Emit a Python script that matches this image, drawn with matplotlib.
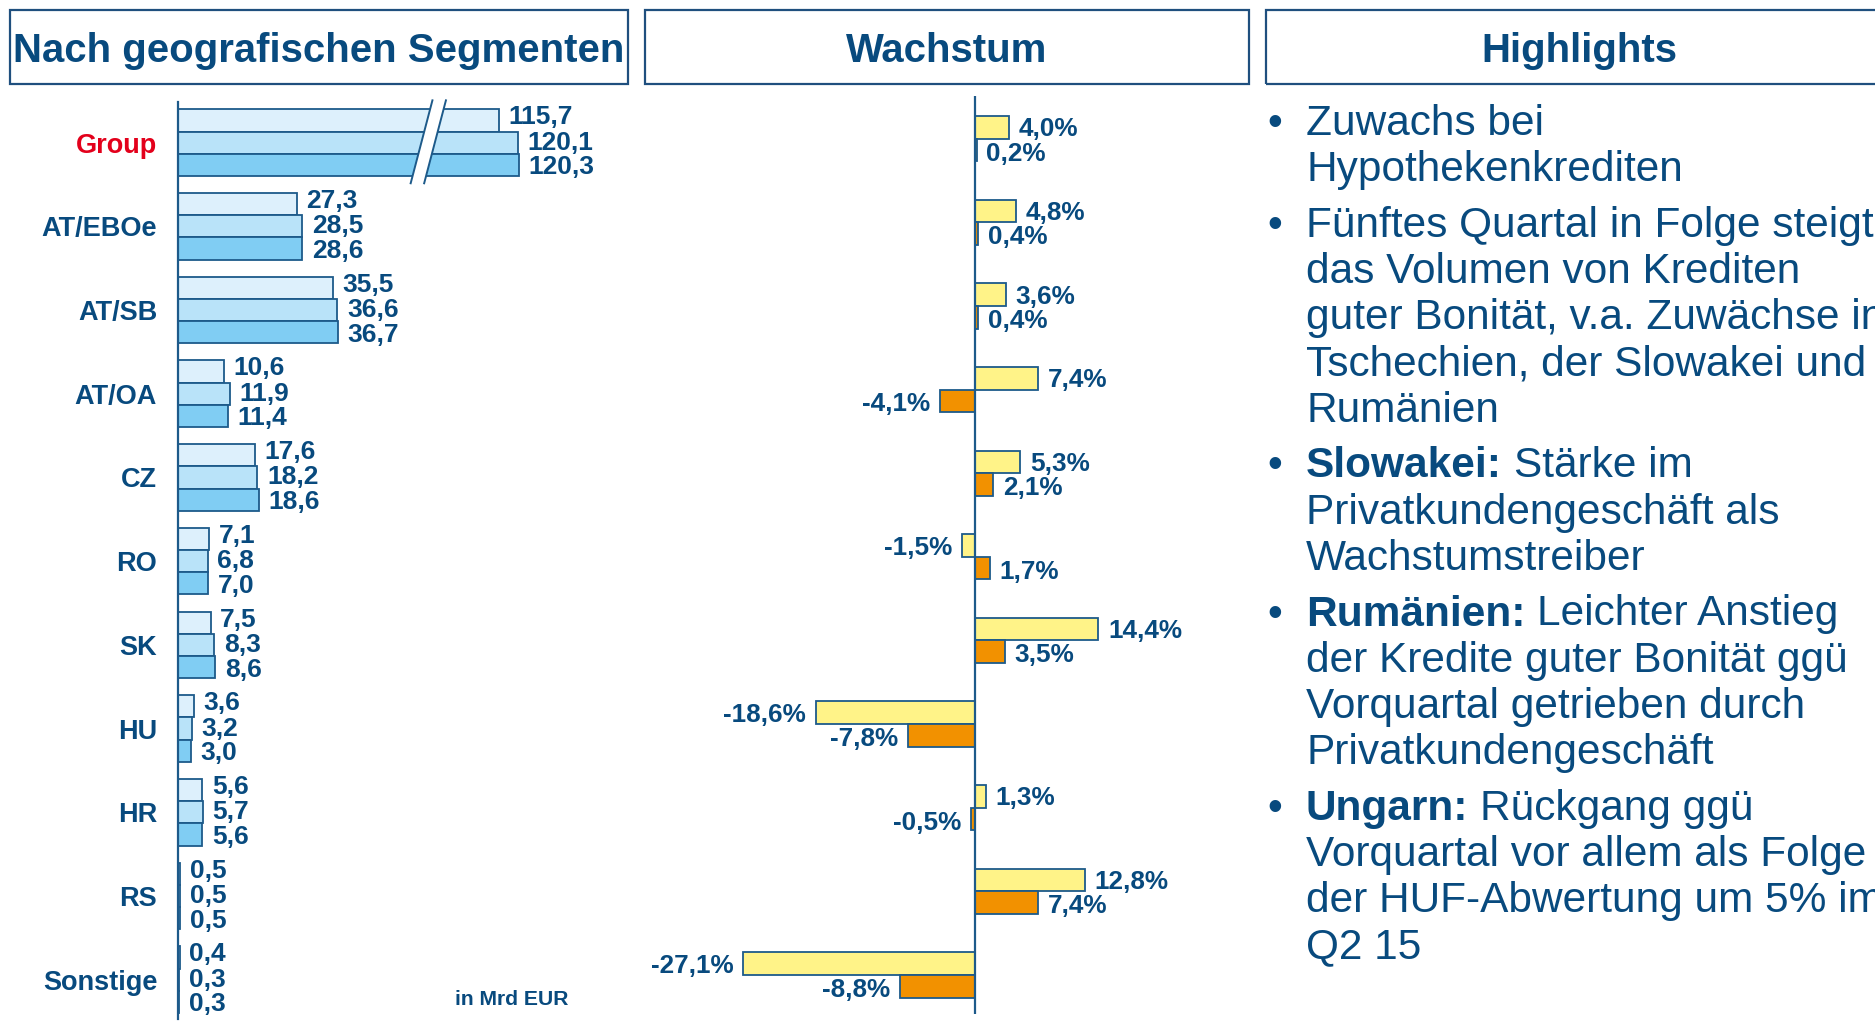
import matplotlib
matplotlib.use("Agg")
import matplotlib.pyplot as plt
from matplotlib.patches import Rectangle, Polygon
from matplotlib.lines import Line2D
from matplotlib.text import Annotation
import numpy as np

plt.rcParams['font.family'] = ['Liberation Sans', 'DejaVu Sans']

# ---------------- data ----------------
categories = ["Group", "AT/EBOe", "AT/SB", "AT/OA", "CZ", "RO", "SK", "HU", "HR", "RS", "Sonstige"]
vol_q2_14 = [115.7, 27.3, 35.5, 10.6, 17.6, 7.1, 7.5, 3.6, 5.6, 0.5, 0.4]
vol_q1_15 = [120.1, 28.5, 36.6, 11.9, 18.2, 6.8, 8.3, 3.2, 5.7, 0.5, 0.3]
vol_q2_15 = [120.3, 28.6, 36.7, 11.4, 18.6, 7.0, 8.6, 3.0, 5.6, 0.5, 0.3]
growth_yoy = [4.0, 4.8, 3.6, 7.4, 5.3, -1.5, 14.4, -18.6, 1.3, 12.8, -27.1]
growth_qoq = [0.2, 0.4, 0.4, -4.1, 2.1, 1.7, 3.5, -7.8, -0.5, 7.4, -8.8]

titles = ["Nach geografischen Segmenten", "Wachstum", "Highlights"]
unit_note = "in Mrd EUR"
highlights = [
    ("", ["Zuwachs bei", "Hypothekenkrediten"]),
    ("", ["Fünftes Quartal in Folge steigt", "das Volumen von Krediten",
          "guter Bonität, v.a. Zuwächse in", "Tschechien, der Slowakei und", "Rumänien"]),
    ("Slowakei:", ["Stärke im", "Privatkundengeschäft als", "Wachstumstreiber"]),
    ("Rumänien:", ["Leichter Anstieg", "der Kredite guter Bonität ggü",
                   "Vorquartal getrieben durch", "Privatkundengeschäft"]),
    ("Ungarn:", ["Rückgang ggü", "Vorquartal vor allem als Folge",
                 "der HUF-Abwertung um 5% im", "Q2 15"]),
]

# ---------------- style ----------------
NAVY = "#084A7E"
EDGE = "#1D5A8A"
BOX = "#1F4F7E"
RED = "#E3001B"
BLUE_COLS = ["#DDF0FC", "#B9E3F9", "#80CDF3"]
YELLOW = "#FFF388"
ORANGE = "#F29100"
BREAK = 42.0  # units cut out of the Group bars (broken axis)

W, H = 1875, 1032
fig = plt.figure(figsize=(W / 100, H / 100), dpi=100)


def fx(x):
    return x / W


def fy(y):
    return 1 - y / H


def fmt(v, pct=False):
    s = f"{v:.1f}".replace(".", ",")
    return s + "%" if pct else s


# ---------------- header boxes ----------------
boxes = [(10, 628), (645, 1249), (1266, 1892)]
for (x0, x1), title in zip(boxes, titles):
    fig.add_artist(Rectangle((fx(x0), fy(84)), (x1 - x0) / W, 74 / H,
                             transform=fig.transFigure, fill=False, ec=BOX, lw=1.6))
    fig.text(fx((x0 + x1) / 2), fy(62), title, ha='center', va='baseline',
             fontsize=28.9, fontweight='bold', color=NAVY)

# ---------------- left chart ----------------
n = len(categories)
y = np.arange(n)
axL = fig.add_axes([fx(178), fy(1019), (640 - 178) / W, (1019 - 102) / H])
axL.set_xlim(0, 462 / 4.353)
axL.set_ylim(10.47, -0.485)
for s in ["top", "right", "bottom"]:
    axL.spines[s].set_visible(False)
axL.spines["left"].set_color(EDGE)
axL.spines["left"].set_linewidth(1.6)
axL.set_xticks([])
axL.set_yticks(y, categories)
axL.tick_params(axis='y', length=0, pad=15, labelsize=19.5, labelcolor=NAVY)
for lab in axL.get_yticklabels():
    lab.set_fontweight('bold')
axL.get_yticklabels()[0].set_color(RED)

h = 0.265
label_dy = [2.2, 0.0, -1.8]
for k, (vals, col) in enumerate(zip([vol_q2_14, vol_q1_15, vol_q2_15], BLUE_COLS)):
    plotted = [v - BREAK if i == 0 else v for i, v in enumerate(vals)]
    pos = y + (k - 1) * h
    axL.barh(pos, plotted, height=h, color=col, edgecolor=EDGE, lw=1.3, zorder=2)
    for p, v, yy in zip(plotted, vals, pos):
        axL.annotate(fmt(v), xy=(p, yy), xytext=(7, label_dy[k]), textcoords='offset points',
                     ha='left', va='center', fontsize=19, fontweight='bold', color=NAVY)

# break symbol on Group bars
bx_top, bx_bot, gap = 60.0, 55.0, 3.1
y_top, y_bot = -0.505, 0.486
poly = Polygon([(bx_top - gap / 2, y_top), (bx_top + gap / 2, y_top),
                (bx_bot + gap / 2, y_bot), (bx_bot - gap / 2, y_bot)],
               closed=True, fc='white', ec='none', zorder=4, clip_on=False)
axL.add_patch(poly)
for d in (-gap / 2, gap / 2):
    axL.add_line(Line2D([bx_top + d, bx_bot + d], [y_top, y_bot], color=EDGE, lw=1.4,
                        zorder=5, clip_on=False))

fig.text(fx(512), fy(1005), unit_note, ha='center', va='baseline', fontsize=15.2,
         fontweight='bold', color=NAVY)

# ---------------- middle chart ----------------
axM = fig.add_axes([fx(645), fy(1014), (1249 - 645) / W, (1014 - 95.7) / H])
axM.set_xlim(-(975 - 645) / 8.56, (1249 - 975) / 8.56)
axM.set_ylim(10.467, -0.514)
axM.axis('off')
axM.axvline(0, color=EDGE, lw=1.6, zorder=4)
h2 = 0.27
for vals, col, off, dy in [(growth_yoy, YELLOW, -h2 / 2, -1.5), (growth_qoq, ORANGE, h2 / 2, -2.6)]:
    pos = y + off
    axM.barh(pos, vals, height=h2, color=col, edgecolor=EDGE, lw=1.3, zorder=2)
    for v, yy in zip(vals, pos):
        axM.annotate(fmt(v, pct=True), xy=(v, yy), xytext=(7 if v >= 0 else -7, dy),
                     textcoords='offset points', ha='left' if v >= 0 else 'right',
                     va='center', fontsize=18.8, fontweight='bold', color=NAVY)

# ---------------- highlights ----------------
FS = 30.5
base = 135.0
step = 46.2
para_gap = 9.5
x_bullet, x_text = 1275, 1306
for bold, lines in highlights:
    fig.text(fx(x_bullet), fy(base), "\u2022", ha='center', va='baseline', fontsize=FS, color=NAVY)
    for j, line in enumerate(lines):
        if j == 0 and bold:
            tb = fig.text(fx(x_text), fy(base), bold, ha='left', va='baseline', fontsize=FS,
                          fontweight='bold', color=NAVY)
            fig.add_artist(Annotation(line, xy=(1, 0), xycoords=tb, xytext=(FS * 0.278, 0),
                                      textcoords='offset points', ha='left', va='bottom',
                                      fontsize=FS, color=NAVY))
        else:
            fig.text(fx(x_text), fy(base), line, ha='left', va='baseline', fontsize=FS, color=NAVY)
        base += step
    base += para_gap

fig.savefig("out.png", dpi=100)
